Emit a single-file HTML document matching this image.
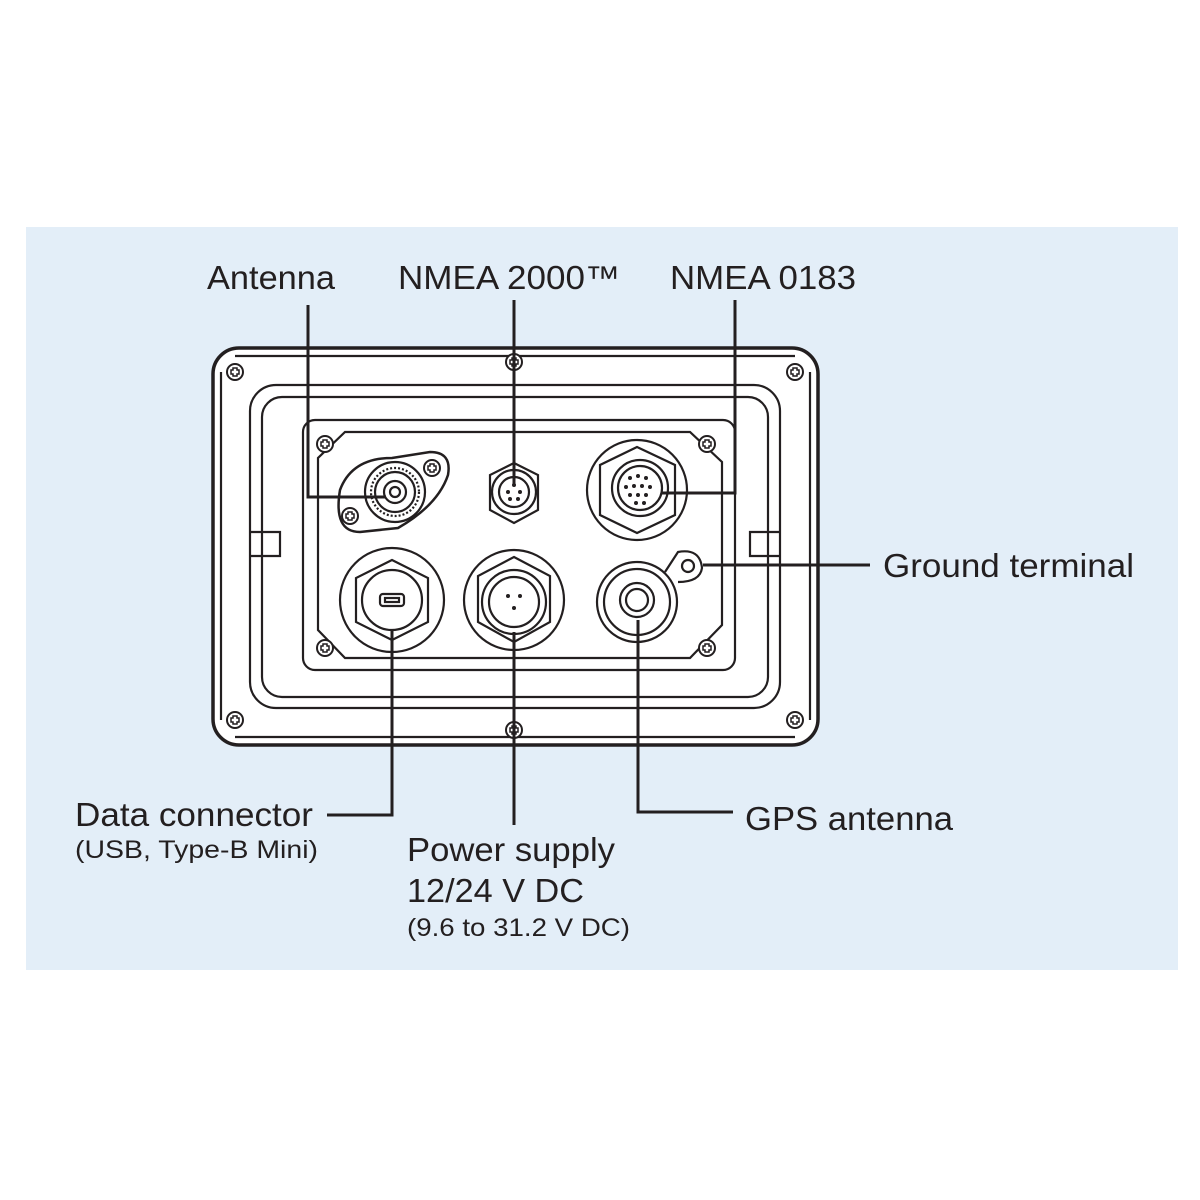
<!DOCTYPE html>
<html><head><meta charset="utf-8"><style>
html,body{margin:0;padding:0;background:#fff;width:1200px;height:1200px;overflow:hidden}
svg{display:block}
text{font-family:"Liberation Sans",sans-serif;fill:#231f20}
</style></head><body>
<svg width="1200" height="1200" viewBox="0 0 1200 1200" xmlns="http://www.w3.org/2000/svg">
<defs>
<g id="scr"><circle r="8" fill="#fff" stroke="#231f20" stroke-width="2"/><path d="M-4,-2 h2 v-2 h4 v2 h2 v4 h-2 v2 h-4 v-2 h-2z" fill="none" stroke="#231f20" stroke-width="1.5"/></g>
</defs>
<rect x="26" y="227" width="1152" height="743" fill="#e3eef8"/>
<g fill="none" stroke="#231f20" stroke-width="2.2">
<rect x="213" y="348" width="605" height="397" rx="26" fill="#fff" stroke-width="3.5"/>
<line x1="235" y1="356" x2="795" y2="356"/>
<line x1="235" y1="737" x2="795" y2="737"/>
<line x1="221" y1="372" x2="221" y2="720"/>
<line x1="810" y1="372" x2="810" y2="720"/>
<rect x="250" y="385" width="530" height="323" rx="26"/>
<rect x="262" y="397" width="506" height="300" rx="20"/>
<rect x="303" y="420" width="432" height="250" rx="12"/>
<path d="M345,432 H690 L722,462 V625 L690,658 H345 L318,630 V458 Z"/>
<path d="M250,532 H280 V556 H250"/>
<path d="M780,532 H750 V556 H780"/>
<path d="M340,490 Q352,458 392,458 L430,452 Q452,452 448,475 Q438,505 398,528 L360,532 Q333,532 340,490Z" stroke-width="2.5"/>
<circle cx="395" cy="492" r="30"/><circle cx="395" cy="492" r="24" stroke-dasharray="2 2"/>
<circle cx="395" cy="492" r="20"/><circle cx="395" cy="492" r="11"/><circle cx="395" cy="492" r="5"/>
<path d="M514,463 L538,475 V510 L514,523 L490,510 V475 Z"/>
<circle cx="514" cy="492" r="22"/><circle cx="514" cy="492" r="15"/>
<circle cx="637" cy="490" r="50"/>
<path d="M637,447 L675,465 V515 L637,533 L600,515 V465 Z"/>
<circle cx="640" cy="488" r="28"/><circle cx="640" cy="488" r="22"/>
<circle cx="392" cy="600" r="52"/>
<path d="M392,560 L428,578 V622 L392,640 L356,622 V578 Z"/>
<circle cx="392" cy="600" r="30"/>
<rect x="380" y="594" width="24" height="12" rx="3"/><rect x="385" y="598" width="14" height="4"/>
<circle cx="514" cy="600" r="50"/>
<path d="M514,557 L550,576 V622 L514,642 L478,622 V576 Z"/>
<circle cx="514" cy="602" r="32"/><circle cx="514" cy="602" r="25"/>
<circle cx="637" cy="602" r="40"/><circle cx="637" cy="602" r="33"/>
<circle cx="637" cy="600" r="17"/><circle cx="637" cy="600" r="11"/>
<path d="M665,572 L678,552 Q700,548 702,568 Q700,582 678,582"/>
<circle cx="688" cy="566" r="6"/>
</g>
<g fill="#231f20">
<circle cx="514" cy="485" r="2"/><circle cx="508" cy="492" r="2"/><circle cx="520" cy="492" r="2"/><circle cx="510" cy="499" r="2"/><circle cx="518" cy="499" r="2"/>
<circle cx="630" cy="478" r="2"/><circle cx="638" cy="476" r="2"/><circle cx="646" cy="478" r="2"/><circle cx="626" cy="487" r="2"/><circle cx="634" cy="486" r="2"/><circle cx="642" cy="486" r="2"/><circle cx="650" cy="487" r="2"/><circle cx="630" cy="495" r="2"/><circle cx="638" cy="495" r="2"/><circle cx="646" cy="495" r="2"/><circle cx="636" cy="503" r="2"/><circle cx="644" cy="503" r="2"/>
<circle cx="508" cy="596" r="2"/><circle cx="520" cy="596" r="2"/><circle cx="514" cy="608" r="2"/>
</g>
<use href="#scr" x="235" y="372"/><use href="#scr" x="795" y="372"/><use href="#scr" x="235" y="720"/><use href="#scr" x="795" y="720"/>
<use href="#scr" x="514" y="362"/><use href="#scr" x="514" y="730"/>
<use href="#scr" x="325" y="444"/><use href="#scr" x="707" y="444"/><use href="#scr" x="325" y="648"/><use href="#scr" x="707" y="648"/>
<use href="#scr" x="350" y="516"/><use href="#scr" x="432" y="468"/>
<g fill="none" stroke="#231f20" stroke-width="3">
<path d="M308,305 V497 H386"/>
<path d="M514,300 V484"/>
<path d="M735,300 V493 H662"/>
<path d="M703,565 H870"/>
<path d="M392,630 V815 H327"/>
<path d="M514,632 V825"/>
<path d="M638,620 V812 H733"/>
</g>
<g font-size="33">
<text x="207" y="289" textLength="128" lengthAdjust="spacingAndGlyphs">Antenna</text>
<text x="398" y="289" textLength="222" lengthAdjust="spacingAndGlyphs">NMEA 2000™</text>
<text x="670" y="289" textLength="186" lengthAdjust="spacingAndGlyphs">NMEA 0183</text>
<text x="883" y="577" textLength="251" lengthAdjust="spacingAndGlyphs">Ground terminal</text>
<text x="75" y="826" textLength="238" lengthAdjust="spacingAndGlyphs">Data connector</text>
<text x="407" y="861" textLength="208" lengthAdjust="spacingAndGlyphs">Power supply</text>
<text x="407" y="902" textLength="177" lengthAdjust="spacingAndGlyphs">12/24 V DC</text>
<text x="745" y="830" textLength="208" lengthAdjust="spacingAndGlyphs">GPS antenna</text>
</g>
<g font-size="25">
<text x="75" y="858" textLength="243" lengthAdjust="spacingAndGlyphs">(USB, Type-B Mini)</text>
<text x="407" y="936" textLength="223" lengthAdjust="spacingAndGlyphs">(9.6 to 31.2 V DC)</text>
</g>
</svg>
</body></html>
